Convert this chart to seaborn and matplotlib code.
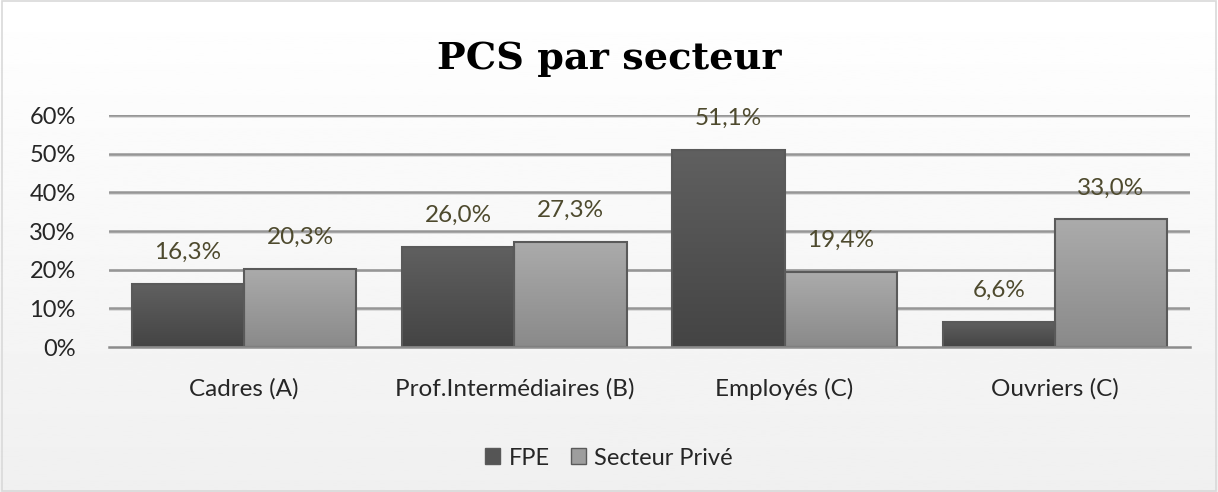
import numpy as np
import pandas as pd
import matplotlib.pyplot as plt
import seaborn as sns
from matplotlib.patches import Rectangle

# Data
categories = ["Cadres (A)", "Prof.Intermédiaires (B)", "Employés (C)", "Ouvriers (C)"]
fpe = [16.3, 26.0, 51.1, 6.6]
prive = [20.3, 27.3, 19.4, 33.0]
series = ["FPE", "Secteur Privé"]
yticks = [0, 10, 20, 30, 40, 50, 60]

df = pd.DataFrame({
    "cat": categories * 2,
    "serie": [series[0]] * 4 + [series[1]] * 4,
    "val": [v / 100 for v in fpe + prive],
})

sns.set_style("white")
plt.rcParams["font.family"] = ["Lato", "DejaVu Sans"]

fig = plt.figure(figsize=(12.18, 4.92), dpi=100)

# background gradient
bg = fig.add_axes([0, 0, 1, 1], zorder=-10)
grad = np.linspace(1.0, 0.94, 256).reshape(-1, 1)
bg.imshow(grad, cmap="gray", vmin=0, vmax=1, aspect="auto", extent=[0, 1, 0, 1])
bg.set_axis_off()
fig.patches.append(Rectangle((0.002, 0.003), 0.996, 0.994, transform=fig.transFigure,
                             fill=False, edgecolor="#D9D9D9", lw=1.2))

ax = fig.add_axes([0.0895, 0.2947, 0.8875, 0.4713])
ax.patch.set_alpha(0)

colors = {"FPE": "#555555", "Secteur Privé": "#9E9E9E"}
sns.barplot(data=df, x="cat", y="val", hue="serie", palette=colors, width=0.83,
            gap=0, edgecolor="#5A5A5A", linewidth=1.5, saturation=1, ax=ax,
            legend=False, zorder=3)

# gradients inside bars
grads = {"FPE": ("#606060", "#444444"), "Secteur Privé": ("#ABABAB", "#8A8A8A")}
for cont, name in zip(ax.containers, series):
    top, bot = grads[name]
    cm = sns.blend_palette([bot, top], as_cmap=True)
    for p in cont.patches:
        x0, y0 = p.get_x(), p.get_y()
        w, h = p.get_width(), p.get_height()
        im = ax.imshow(np.linspace(1, 0, 100).reshape(-1, 1), cmap=cm, vmin=0, vmax=1,
                       aspect="auto", extent=[x0, x0 + w, y0, y0 + h], zorder=3.5)
        im.set_clip_path(p)
        p.set_zorder(4)
        p.set_facecolor("none")
    labels = [f"{v * 100:.1f}%".replace(".", ",") for v in cont.datavalues]
    ax.bar_label(cont, labels=labels, padding=15, fontsize=17.5, color="#4E4A2E", zorder=5)

ax.set_xlim(-0.5, 3.5)
ax.set_ylim(0, 0.6)
ax.set_yticks([t / 100 for t in yticks])
ax.set_yticklabels([f"{t}%" for t in yticks], fontsize=17)
ax.set_xlabel("")
ax.set_ylabel("")
ax.tick_params(axis="x", labelsize=17.5, pad=22, length=0)
ax.tick_params(axis="y", pad=24, length=0)
for t in yticks[1:]:
    ax.axhline(t / 100 - 0.002, color="#D8D8D8", lw=2, zorder=1)
    ax.axhline(t / 100, color="#969696", lw=1.8, zorder=1)
sns.despine(ax=ax, left=True, right=True, top=True)
ax.spines["bottom"].set_color("#8C8C8C")
ax.spines["bottom"].set_linewidth(1.8)
ax.spines["bottom"].set_zorder(6)

fig.suptitle("PCS par secteur", x=0.5, y=0.882, va="center", fontsize=27.5,
             fontweight="bold", family="DejaVu Serif", color="black")

handles = [Rectangle((0, 0), 1, 1, facecolor=colors[s], edgecolor="#5A5A5A", lw=1) for s in series]
fig.legend(handles, series, loc="center", bbox_to_anchor=(0.5, 0.069), ncol=2,
           frameon=False, fontsize=17, handlelength=0.65, handleheight=0.65,
           handletextpad=0.35, columnspacing=0.9)

fig.savefig("out.png", dpi=100)
